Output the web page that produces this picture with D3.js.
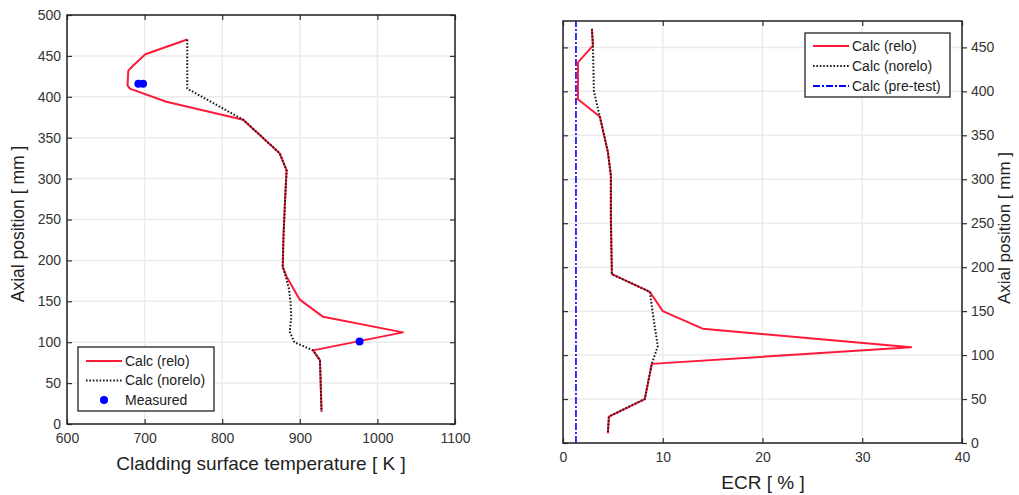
<!DOCTYPE html>
<html><head><meta charset="utf-8">
<script src="https://cdn.jsdelivr.net/npm/d3@7"></script>
<style>body{margin:0;background:#fff}svg{display:block}text{font-family:"Liberation Sans",Arial,sans-serif}</style>
</head><body>
<svg id="c" width="1019" height="495"></svg>
<script>
// Left panel: cladding surface temperature [K] vs axial position [mm]
const tempReloT = [755,701,685,679,678,681,728,827,874,883,881,879,878,883,900,930,1033,917,926,928];
const tempReloZ = [470,452,438,432,414,410,394,372,331,310,274,230,192,180,152,131,112,90,78,15];
const tempNoreloT = [755,755,827,874,883,881,879,878,882,886,888,889,887,893,917,926,928];
const tempNoreloZ = [470,410,372,331,310,274,230,192,180,165,150,130,113,100,90,78,15];
const measT = [692,698,977];
const measZ = [416,416,101];
const tempTicks = [600,700,800,900,1000,1100];
const zTicksL = [0,50,100,150,200,250,300,350,400,450,500];
// Right panel: ECR [%] vs axial position [mm]
const ecrRelo = [2.9,3.0,1.5,1.5,3.7,4.5,4.8,4.8,4.9,8.7,10.0,14.0,34.9,8.9,8.2,4.6,4.5];
const ecrReloZ = [471,452,433,391,371,331,304,255,192,172,150,130,109,90,50,30,11];
const ecrNorelo = [2.9,3.0,3.1,3.4,3.7,4.5,4.8,4.8,4.9,8.7,9.1,9.5,8.9,8.2,4.6,4.5];
const ecrNoreloZ = [471,452,400,385,371,331,304,255,192,172,140,110,90,50,30,11];
const ecrPretest = [1.3,1.3];
const ecrPretestZ = [0,480];
const ecrTicks = [0,10,20,30,40];
const zTicksR = [0,50,100,150,200,250,300,350,400,450];

const RED = "#ff1a3a", BLK = "#1a1a1a", BLUE = "#0000ff";
const svg = d3.select("#c");

function panel(o){
  const g = svg.append("g");
  const x = d3.scaleLinear().domain(o.xd).range([o.x0,o.x1]);
  const y = d3.scaleLinear().domain(o.yd).range([o.y1,o.y0]);
  g.selectAll(".gx").data(o.xt).enter().append("line")
    .attr("x1",d=>x(d)).attr("x2",d=>x(d)).attr("y1",o.y0).attr("y2",o.y1)
    .attr("stroke","#ebebeb").attr("stroke-width",1.5);
  g.selectAll(".gy").data(o.yt).enter().append("line")
    .attr("y1",d=>y(d)).attr("y2",d=>y(d)).attr("x1",o.x0).attr("x2",o.x1)
    .attr("stroke","#ebebeb").attr("stroke-width",1.5);
  return {g,x,y};
}

function lines(p, xs, ys, color, dash, w){
  const line = d3.line().x(d=>p.x(d[0])).y(d=>p.y(d[1]));
  p.g.append("path").datum(xs.map((v,i)=>[v,ys[i]]))
    .attr("d",line).attr("fill","none").attr("stroke",color)
    .attr("stroke-width",w).attr("stroke-dasharray",dash||null)
    .attr("stroke-linejoin","round");
}

function frame(p,o){
  const g=p.g;
  const ax = (axis, tr)=>g.append("g").attr("transform",tr).call(axis);
  const fmt = d3.format("d");
  const b = ax(d3.axisBottom(p.x).tickValues(o.xt).tickSizeInner(-5).tickSizeOuter(0).tickPadding(9).tickFormat(fmt),`translate(0,${o.y1})`);
  const t = ax(d3.axisTop(p.x).tickValues(o.xt).tickSizeInner(-5).tickSizeOuter(0).tickFormat(""),`translate(0,${o.y0})`);
  let l,r;
  if(o.side==="left"){
    l = ax(d3.axisLeft(p.y).tickValues(o.yt).tickSizeInner(-5).tickSizeOuter(0).tickPadding(6).tickFormat(fmt),`translate(${o.x0},0)`);
    r = ax(d3.axisRight(p.y).tickValues(o.yt).tickSizeInner(-5).tickSizeOuter(0).tickFormat(""),`translate(${o.x1},0)`);
  } else {
    l = ax(d3.axisLeft(p.y).tickValues(o.yt).tickSizeInner(-5).tickSizeOuter(0).tickFormat(""),`translate(${o.x0},0)`);
    r = ax(d3.axisRight(p.y).tickValues(o.yt).tickSizeInner(5).tickSizeOuter(0).tickPadding(4).tickFormat(fmt),`translate(${o.x1},0)`);
  }
  [b,t,l,r].forEach(s=>{
    s.select(".domain").remove();
    s.selectAll("line").attr("stroke","#333").attr("stroke-width",1.2);
    s.selectAll("text").attr("font-size",14).attr("fill","#333").attr("font-family","Liberation Sans, Arial, sans-serif");
  });
  g.append("rect").attr("x",o.x0).attr("y",o.y0).attr("width",o.x1-o.x0).attr("height",o.y1-o.y0)
    .attr("fill","none").attr("stroke","#222").attr("stroke-width",1.5);
}

// ---------- Left ----------
const oL = {x0:67,x1:455,y0:15,y1:424,xd:[600,1100],yd:[0,500],xt:tempTicks,yt:zTicksL,side:"left"};
const pL = panel(oL);
lines(pL, tempReloT, tempReloZ, RED, null, 2);
lines(pL, tempNoreloT, tempNoreloZ, BLK, "1.6,1.8", 2);
pL.g.selectAll(".m").data(measT.map((v,i)=>[v,measZ[i]])).enter().append("circle")
  .attr("cx",d=>pL.x(d[0])).attr("cy",d=>pL.y(d[1])).attr("r",4).attr("fill",BLUE);
frame(pL,oL);
svg.append("text").attr("x",261).attr("y",470).attr("text-anchor","middle").attr("font-size",19).attr("fill","#222")
  .text("Cladding surface temperature [ K ]");
svg.append("text").attr("transform","translate(24,224) rotate(-90)").attr("text-anchor","middle").attr("font-size",17.5).attr("fill","#222")
  .text("Axial position [ mm ]");
(function(){
  const g=svg.append("g");
  g.append("rect").attr("x",78).attr("y",347).attr("width",136).attr("height",64).attr("fill","#fff").attr("stroke","#222").attr("stroke-width",1.3);
  const items=[["Calc (relo)",RED,null],["Calc (norelo)",BLK,"1.6,1.8"],["Measured",BLUE,"dot"]];
  items.forEach((it,i)=>{
    const yy=361+i*19.5;
    if(it[2]==="dot") g.append("circle").attr("cx",104).attr("cy",yy).attr("r",4).attr("fill",BLUE);
    else g.append("line").attr("x1",86).attr("x2",122).attr("y1",yy).attr("y2",yy).attr("stroke",it[1]).attr("stroke-width",2).attr("stroke-dasharray",it[2]);
    g.append("text").attr("x",125).attr("y",yy+4.5).attr("font-size",14).attr("fill","#222").text(it[0]);
  });
})();

// ---------- Right ----------
const oR = {x0:563,x1:962,y0:21,y1:443,xd:[0,40],yd:[0,480],xt:ecrTicks,yt:zTicksR,side:"right"};
const pR = panel(oR);
lines(pR, ecrPretest, ecrPretestZ, BLUE, "7,2,2,2", 1.6);
lines(pR, ecrRelo, ecrReloZ, RED, null, 2);
lines(pR, ecrNorelo, ecrNoreloZ, BLK, "1.6,1.8", 2);
frame(pR,oR);
svg.append("text").attr("x",763).attr("y",489).attr("text-anchor","middle").attr("font-size",19).attr("fill","#222")
  .text("ECR [ % ]");
svg.append("text").attr("transform","translate(1010,228) rotate(-90)").attr("text-anchor","middle").attr("font-size",17).attr("fill","#222")
  .text("Axial position [ mm ]");
(function(){
  const g=svg.append("g");
  g.append("rect").attr("x",805).attr("y",33).attr("width",145).attr("height",64).attr("fill","#fff").attr("stroke","#222").attr("stroke-width",1.3);
  const items=[["Calc (relo)",RED,null,2],["Calc (norelo)",BLK,"1.6,1.8",2],["Calc (pre-test)",BLUE,"7,2,2,2",2]];
  items.forEach((it,i)=>{
    const yy=46+i*20;
    g.append("line").attr("x1",813).attr("x2",849).attr("y1",yy).attr("y2",yy).attr("stroke",it[1]).attr("stroke-width",it[3]).attr("stroke-dasharray",it[2]);
    g.append("text").attr("x",852).attr("y",yy+4.5).attr("font-size",14).attr("fill","#222").text(it[0]);
  });
})();
</script>
</body></html>
